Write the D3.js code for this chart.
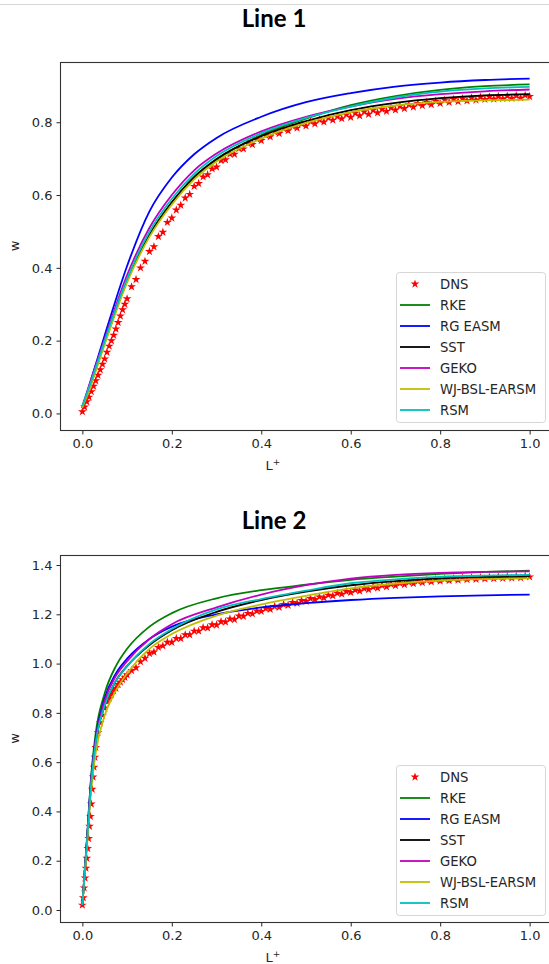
<!DOCTYPE html>
<html>
<head>
<meta charset="utf-8">
<script src="https://cdn.jsdelivr.net/npm/d3@7"></script>
<style>
  body { margin: 0; background: #fff; }
  svg { display: block; }
  .tick text { font-family: "DejaVu Sans", sans-serif; font-size: 13px; fill: #262626; }
  .tick line { stroke: #262626; }
</style>
</head>
<body>
<script>
var w = 549;
var h = 964;

// series names and colours (matplotlib single-letter colours)
var names = ["DNS", "RKE", "RG EASM", "SST", "GEKO", "WJ-BSL-EARSM", "RSM"];
var colors = ["red", "#008000", "#0000ff", "#000000", "#bf00bf", "#bfbf00", "#00bfbf"];
var xTicks = [0, 0.2, 0.4, 0.6, 0.8, 1.0];

// ---- Line 1 ----
var L1 = [0, 0.02, 0.05, 0.1, 0.15, 0.2, 0.25, 0.3, 0.4, 0.5, 0.6, 0.7, 0.8, 0.9, 1.0];
var rke1  = [0.015, 0.085, 0.195, 0.365, 0.49, 0.58, 0.648, 0.697, 0.765, 0.81, 0.847, 0.872, 0.889, 0.899, 0.904];
var rg1   = [0.015, 0.095, 0.215, 0.405, 0.555, 0.648, 0.712, 0.757, 0.815, 0.855, 0.88, 0.898, 0.909, 0.916, 0.92];
var sst1  = [0.015, 0.085, 0.195, 0.365, 0.49, 0.58, 0.65, 0.699, 0.762, 0.803, 0.833, 0.853, 0.866, 0.874, 0.877];
var geko1 = [0.02, 0.095, 0.205, 0.38, 0.51, 0.6, 0.668, 0.714, 0.775, 0.815, 0.843, 0.864, 0.877, 0.885, 0.89];
var wj1   = [0.015, 0.08, 0.19, 0.36, 0.485, 0.574, 0.643, 0.692, 0.755, 0.798, 0.828, 0.846, 0.856, 0.86, 0.862];
var rsm1  = [0.02, 0.09, 0.2, 0.37, 0.5, 0.59, 0.658, 0.707, 0.77, 0.812, 0.843, 0.868, 0.884, 0.893, 0.897];
var dnsL1 = [0, 0.005, 0.01, 0.015, 0.02, 0.025, 0.03, 0.035, 0.04, 0.045, 0.05, 0.055, 0.06, 0.065, 0.07, 0.075, 0.08, 0.085, 0.09, 0.095,
  0.1, 0.11, 0.12, 0.13, 0.14, 0.15, 0.16, 0.17, 0.18, 0.19, 0.2, 0.21, 0.22, 0.23, 0.24, 0.25, 0.26, 0.27, 0.28, 0.29,
  0.3, 0.31, 0.32, 0.33, 0.34, 0.35, 0.36, 0.37, 0.38, 0.39, 0.4, 0.41, 0.42, 0.43, 0.44, 0.45, 0.46, 0.47, 0.48, 0.49,
  0.5, 0.51, 0.52, 0.53, 0.54, 0.55, 0.56, 0.57, 0.58, 0.59, 0.6, 0.61, 0.62, 0.63, 0.64, 0.65, 0.66, 0.67, 0.68, 0.69,
  0.7, 0.71, 0.72, 0.73, 0.74, 0.75, 0.76, 0.77, 0.78, 0.79, 0.8, 0.81, 0.82, 0.83, 0.84, 0.85, 0.86, 0.87, 0.88, 0.89,
  0.9, 0.91, 0.92, 0.93, 0.94, 0.95, 0.96, 0.97, 0.98, 0.99, 1.0];
var dns1 = [0.005, 0.018, 0.032, 0.045, 0.06, 0.075, 0.09, 0.105, 0.12, 0.135, 0.15, 0.168, 0.185, 0.2, 0.215, 0.232, 0.25, 0.268, 0.285, 0.3,
  0.315, 0.348, 0.368, 0.4, 0.418, 0.445, 0.458, 0.486, 0.498, 0.525, 0.537, 0.559, 0.572, 0.592, 0.602, 0.624, 0.632, 0.65, 0.656, 0.672,
  0.677, 0.695, 0.697, 0.713, 0.712, 0.728, 0.727, 0.742, 0.739, 0.754, 0.75, 0.764, 0.76, 0.773, 0.769, 0.782, 0.777, 0.789, 0.784, 0.796,
  0.79, 0.802, 0.796, 0.807, 0.801, 0.812, 0.806, 0.816, 0.81, 0.821, 0.814, 0.825, 0.818, 0.829, 0.822, 0.833, 0.826, 0.836, 0.83, 0.84,
  0.834, 0.844, 0.838, 0.848, 0.842, 0.852, 0.846, 0.855, 0.849, 0.858, 0.852, 0.861, 0.855, 0.863, 0.857, 0.865, 0.859, 0.867, 0.861, 0.869,
  0.863, 0.87, 0.864, 0.871, 0.865, 0.872, 0.866, 0.873, 0.867, 0.874, 0.871];
var yTicks1 = [0, 0.2, 0.4, 0.6, 0.8];

// ---- Line 2 ----
var L2 = [0, 0.01, 0.02, 0.03, 0.05, 0.075, 0.1, 0.15, 0.2, 0.3, 0.4, 0.5, 0.6, 0.7, 0.8, 0.9, 1.0];
var rke2  = [0.02, 0.28, 0.55, 0.72, 0.88, 0.99, 1.06, 1.15, 1.205, 1.265, 1.298, 1.32, 1.34, 1.353, 1.364, 1.372, 1.377];
var rg2   = [0.02, 0.28, 0.54, 0.7, 0.86, 0.96, 1.02, 1.1, 1.15, 1.2, 1.228, 1.245, 1.258, 1.267, 1.273, 1.277, 1.28];
var sst2  = [0.02, 0.27, 0.52, 0.68, 0.83, 0.93, 0.99, 1.075, 1.135, 1.21, 1.258, 1.292, 1.318, 1.335, 1.346, 1.352, 1.355];
var geko2 = [0.02, 0.27, 0.53, 0.69, 0.85, 0.95, 1.01, 1.1, 1.16, 1.228, 1.28, 1.318, 1.345, 1.36, 1.368, 1.372, 1.374];
var wj2   = [0.02, 0.25, 0.49, 0.64, 0.79, 0.89, 0.96, 1.06, 1.12, 1.195, 1.24, 1.275, 1.305, 1.325, 1.337, 1.343, 1.346];
var rsm2  = [0.02, 0.27, 0.52, 0.68, 0.83, 0.93, 0.99, 1.08, 1.14, 1.22, 1.262, 1.296, 1.326, 1.342, 1.352, 1.357, 1.36];
var dnsL2 = [0, 0.002, 0.004, 0.006, 0.008, 0.01, 0.012, 0.014, 0.016, 0.018, 0.02, 0.022, 0.024, 0.026, 0.028, 0.03,
  0.035, 0.04, 0.045, 0.05, 0.055, 0.06, 0.065, 0.07, 0.075, 0.08, 0.085, 0.09, 0.095,
  0.1, 0.11, 0.12, 0.13, 0.14, 0.15, 0.16, 0.17, 0.18, 0.19, 0.2, 0.21, 0.22, 0.23, 0.24, 0.25, 0.26, 0.27, 0.28, 0.29,
  0.3, 0.31, 0.32, 0.33, 0.34, 0.35, 0.36, 0.37, 0.38, 0.39, 0.4, 0.41, 0.42, 0.43, 0.44, 0.45, 0.46, 0.47, 0.48, 0.49,
  0.5, 0.51, 0.52, 0.53, 0.54, 0.55, 0.56, 0.57, 0.58, 0.59, 0.6, 0.61, 0.62, 0.63, 0.64, 0.65, 0.66, 0.67, 0.68, 0.69,
  0.7, 0.71, 0.72, 0.73, 0.74, 0.75, 0.76, 0.77, 0.78, 0.79, 0.8, 0.81, 0.82, 0.83, 0.84, 0.85, 0.86, 0.87, 0.88, 0.89,
  0.9, 0.91, 0.92, 0.93, 0.94, 0.95, 0.96, 0.97, 0.98, 0.99, 1.0];
var dns2 = [0.02, 0.05, 0.09, 0.13, 0.17, 0.21, 0.25, 0.29, 0.34, 0.38, 0.43, 0.49, 0.54, 0.58, 0.62, 0.66,
  0.72, 0.76, 0.79, 0.82, 0.845, 0.86, 0.875, 0.89, 0.9, 0.915, 0.925, 0.935, 0.945,
  0.955, 0.972, 0.983, 1.008, 1.022, 1.041, 1.047, 1.066, 1.072, 1.087, 1.087, 1.102, 1.102, 1.117, 1.117, 1.132, 1.132, 1.146, 1.145, 1.158,
  1.157, 1.17, 1.169, 1.181, 1.179, 1.193, 1.192, 1.204, 1.202, 1.214, 1.212, 1.224, 1.221, 1.232, 1.229, 1.24, 1.237, 1.248, 1.245, 1.256,
  1.253, 1.264, 1.26, 1.271, 1.267, 1.278, 1.275, 1.286, 1.282, 1.293, 1.289, 1.299, 1.295, 1.305, 1.301, 1.311, 1.307, 1.317, 1.312, 1.322,
  1.317, 1.326, 1.321, 1.33, 1.325, 1.334, 1.329, 1.338, 1.332, 1.341, 1.335, 1.343, 1.337, 1.345, 1.339, 1.347, 1.341, 1.349, 1.342, 1.35,
  1.344, 1.351, 1.345, 1.352, 1.346, 1.353, 1.347, 1.354, 1.348, 1.355, 1.352];
var yTicks2 = [0, 0.2, 0.4, 0.6, 0.8, 1.0, 1.2, 1.4];

var svg = d3.select("body")
  .append("svg")
  .attr("width", w)
  .attr("height", h);

// thin grey page rule at the very top
svg.append("line")
  .attr("x1", 0).attr("x2", w).attr("y1", 4.5).attr("y2", 4.5)
  .attr("stroke", "#d8d8d8");

function panel(p) {
  var x = d3.scaleLinear().domain([-0.05, 1.05]).range([60, 552]);
  var y = d3.scaleLinear().domain(p.yDomain).range([p.bottom, p.top]);

  svg.append("text")
    .attr("x", 274).attr("y", p.titleY)
    .attr("text-anchor", "middle")
    .style("font-family", "Lato, sans-serif")
    .style("font-weight", "bold")
    .style("font-size", "24px")
    .text(p.title);

  var g = svg.append("g");

  // DNS stars
  var dnsPts = p.dnsL.map(function(d, i) { return [d, p.dns[i]]; });
  g.selectAll("path.dns")
    .data(dnsPts)
    .enter()
    .append("path")
    .attr("class", "dns")
    .attr("d", d3.symbol().type(d3.symbolStar).size(24))
    .attr("fill", "red")
    .attr("transform", function(d) { return "translate(" + x(d[0]) + "," + y(d[1]) + ")"; });

  var line = d3.line()
    .curve(d3.curveMonotoneX)
    .x(function(d) { return x(d[0]); })
    .y(function(d) { return y(d[1]); });

  p.series.forEach(function(s, k) {
    g.append("path")
      .datum(p.L.map(function(d, i) { return [d, s[i]]; }))
      .attr("d", line)
      .attr("fill", "none")
      .attr("stroke", colors[k + 1])
      .attr("stroke-width", 1.8);
  });

  // frame
  svg.append("rect")
    .attr("x", 60.5).attr("y", p.top + 0.5)
    .attr("width", 500).attr("height", p.bottom - p.top)
    .attr("fill", "none").attr("stroke", "#333").attr("stroke-width", 1.1);

  svg.append("g")
    .attr("transform", "translate(0," + (p.bottom + 0.5) + ")")
    .call(d3.axisBottom(x).tickValues(xTicks).tickFormat(d3.format(".1f")).tickSize(4).tickPadding(4))
    .call(function(a) { a.select(".domain").remove(); });

  svg.append("g")
    .attr("transform", "translate(60.5,0)")
    .call(d3.axisLeft(y).tickValues(p.yTicks).tickFormat(d3.format(".1f")).tickSize(4).tickPadding(4))
    .call(function(a) { a.select(".domain").remove(); });

  // axis labels
  svg.append("text")
    .attr("transform", "translate(19," + ((p.top + p.bottom) / 2) + ") rotate(-90)")
    .attr("text-anchor", "middle")
    .style("font-family", "DejaVu Sans, sans-serif")
    .style("font-size", "13px")
    .attr("fill", "#262626")
    .text("w");

  var xl = svg.append("text")
    .attr("x", 273).attr("y", p.bottom + 40)
    .attr("text-anchor", "middle")
    .style("font-family", "DejaVu Sans, sans-serif")
    .style("font-size", "13px")
    .attr("fill", "#262626");
  xl.append("tspan").text("L");
  xl.append("tspan").attr("dy", -5).style("font-size", "9px").text("+");

  // legend
  var lg = svg.append("g").attr("transform", "translate(396," + p.legendY + ")");
  lg.append("rect")
    .attr("x", 0.5).attr("y", 0.5).attr("width", 149).attr("height", 150)
    .attr("rx", 3)
    .attr("fill", "white").attr("fill-opacity", 0.8)
    .attr("stroke", "#d6d6d6");
  names.forEach(function(n, i) {
    var cy = 12 + i * 21;
    if (i === 0) {
      lg.append("path")
        .attr("d", d3.symbol().type(d3.symbolStar).size(24))
        .attr("fill", "red")
        .attr("transform", "translate(19," + cy + ")");
    } else {
      lg.append("line")
        .attr("x1", 4).attr("x2", 34).attr("y1", cy).attr("y2", cy)
        .attr("stroke", colors[i]).attr("stroke-width", 1.8);
    }
    lg.append("text")
      .attr("x", 44).attr("y", cy + 4.5)
      .style("font-family", "DejaVu Sans, sans-serif")
      .style("font-size", "13.2px")
      .attr("fill", "#262626")
      .text(n);
  });
}

panel({
  title: "Line 1", titleY: 27, top: 62, bottom: 430,
  yDomain: [-0.0455, 0.9655], yTicks: yTicks1,
  L: L1, series: [rke1, rg1, sst1, geko1, wj1, rsm1],
  dnsL: dnsL1, dns: dns1, legendY: 272
});

panel({
  title: "Line 2", titleY: 529, top: 555, bottom: 922,
  yDomain: [-0.0487, 1.4407], yTicks: yTicks2,
  L: L2, series: [rke2, rg2, sst2, geko2, wj2, rsm2],
  dnsL: dnsL2, dns: dns2, legendY: 765
});
</script>
</body>
</html>
